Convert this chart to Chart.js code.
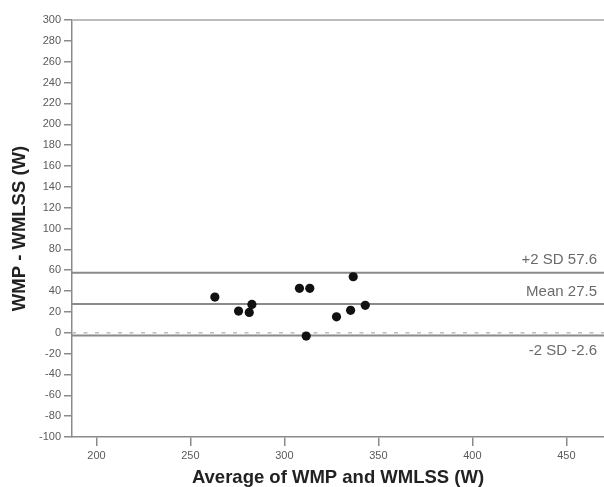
<!DOCTYPE html>
<html>
<head>
<meta charset="utf-8">
<script src="https://cdn.jsdelivr.net/npm/chart.js@4/dist/chart.umd.min.js"></script>
<style>
  html, body { margin: 0; padding: 0; background: #fff; }
  #wrap { width: 604px; height: 487px; }
</style>
</head>
<body>
<div id="wrap"><canvas id="c" width="604" height="487"></canvas></div>
<script>
  // averages (x) and differences (y)
  const avgValues = [263, 275.6, 281.3, 282.7, 308, 313.5, 311.6, 327.7, 335.2, 336.6, 343];
  const diffValues = [34.2, 20.8, 19.5, 27.2, 42.6, 42.6, -3.2, 15.3, 21.5, 53.7, 26.3];

  const refNames = ["+2 SD", "Mean", "-2 SD"];
  const refValues = [57.6, 27.5, -2.6];
  const zeroValue = 0;

  const xRange = [187, 470];
  const yRange = [-100, 300];

  const FONT = "'Liberation Sans', Arial, sans-serif";
  const AXIS_GREY = "#8a8a8a";

  function refLine(v, color, dash, width) {
    return {
      type: "line",
      data: [{ x: xRange[0], y: v }, { x: xRange[1], y: v }],
      borderColor: color,
      borderWidth: width,
      borderDash: dash,
      pointRadius: 0,
      order: 2
    };
  }

  const refLabels = {
    id: "refLabels",
    afterDatasetsDraw(chart) {
      const { ctx, chartArea, scales } = chart;
      ctx.save();
      ctx.font = "15px " + FONT;
      ctx.fillStyle = "#6a6a6a";
      ctx.textAlign = "right";
      refValues.forEach((v, i) => {
        const y = scales.y.getPixelForValue(v);
        const below = v < 0;
        ctx.textBaseline = below ? "top" : "bottom";
        ctx.fillText(refNames[i] + " " + v.toFixed(1), chartArea.right - 7, below ? y + 8 : y - 5);
      });
      // top frame line
      ctx.strokeStyle = "#bdbdbd";
      ctx.lineWidth = 2;
      ctx.beginPath();
      ctx.moveTo(chartArea.left, chartArea.top);
      ctx.lineTo(chart.width, chartArea.top);
      ctx.stroke();
      ctx.restore();
    }
  };

  new Chart(document.getElementById("c"), {
    type: "scatter",
    data: {
      datasets: [
        {
          data: avgValues.map((x, i) => ({ x, y: diffValues[i] })),
          backgroundColor: "#111",
          borderWidth: 0,
          pointRadius: 4.6,
          order: 0
        },
        refLine(zeroValue, "#bcbcbc", [4, 7.5], 1.5),
        refLine(refValues[0], AXIS_GREY, [], 2),
        refLine(refValues[1], AXIS_GREY, [], 2),
        refLine(refValues[2], AXIS_GREY, [], 2)
      ]
    },
    options: {
      responsive: false,
      animation: false,
      layout: { autoPadding: false, padding: { top: 20, right: 0, left: 0, bottom: 0 } },
      plugins: { legend: { display: false }, tooltip: { enabled: false } },
      scales: {
        x: {
          type: "linear",
          min: xRange[0],
          max: xRange[1],
          afterFit(scale) {
            scale.height = 50;
            scale.paddingLeft = 0;
            scale.paddingRight = 0;
          },
          border: { display: true, color: AXIS_GREY, width: 1.5 },
          grid: { drawOnChartArea: false, drawTicks: true, tickLength: 9, color: AXIS_GREY, lineWidth: 1.5 },
          ticks: {
            stepSize: 50,
            includeBounds: false,
            padding: 3,
            color: "#5a5a5a",
            font: { family: FONT, size: 11 }
          },
          title: {
            display: true,
            text: "Average of WMP and WMLSS (W)",
            color: "#222",
            font: { family: FONT, size: 18.5, weight: "bold", lineHeight: 1 },
            padding: { top: 0, bottom: 0 }
          }
        },
        y: {
          min: yRange[0],
          max: yRange[1],
          afterFit(scale) { scale.width = 72; },
          border: { display: true, color: AXIS_GREY, width: 1.5 },
          grid: { drawOnChartArea: false, drawTicks: true, tickLength: 8, color: AXIS_GREY, lineWidth: 1.5 },
          ticks: {
            stepSize: 20,
            autoSkip: false,
            padding: 3,
            color: "#5a5a5a",
            font: { family: FONT, size: 11 }
          },
          title: {
            display: true,
            text: "WMP - WMLSS (W)",
            color: "#222",
            font: { family: FONT, size: 18.5, weight: "bold", lineHeight: 1 },
            padding: { top: 11, bottom: 0 }
          }
        }
      }
    },
    plugins: [refLabels]
  });
</script>
</body>
</html>
